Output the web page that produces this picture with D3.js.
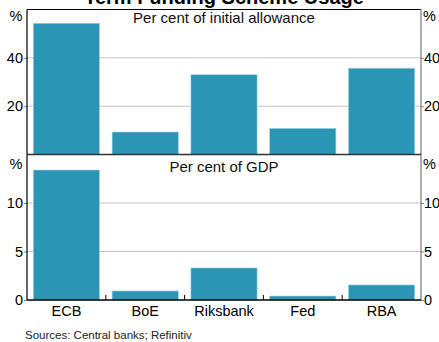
<!DOCTYPE html>
<html>
<head>
<meta charset="utf-8">
<script src="https://cdn.jsdelivr.net/npm/d3@7"></script>
<style>
  html, body { margin: 0; padding: 0; background: #fff; }
  svg { display: block; font-family: "Liberation Sans", Arial, sans-serif; }
</style>
</head>
<body>
<svg id="chart" width="439" height="342"></svg>
<script>
// Central bank term funding schemes
const categories = ["ECB", "BoE", "Riksbank", "Fed", "RBA"];
const allowanceShare = [54.3, 9.3, 33.0, 10.8, 35.7];   // per cent of initial allowance
const gdpShare = [13.4, 0.93, 3.3, 0.41, 1.55];          // per cent of GDP
const topTicks = [20, 40];
const bottomTicks = [0, 5, 10];

const svg = d3.select("#chart");
const left = 27, right = 421;
const topY0 = 9.5, topY1 = 154.5, botY1 = 300;
const barColor = "#2a95b4";
const fs = 14.5;

const x = d3.scaleBand().domain(categories).range([left, right]).paddingInner(0.16).paddingOuter(0.08);

function panel(values, domainMax, ticks, y0, y1, subtitle, subBaseline, unitBaseline) {
  const y = d3.scaleLinear().domain([0, domainMax]).range([y1, y0]);
  const g = svg.append("g");

  // gridlines
  g.selectAll("line.grid").data(ticks.filter(t => t > 0)).join("line")
    .attr("x1", left).attr("x2", right)
    .attr("y1", d => y(d)).attr("y2", d => y(d))
    .attr("stroke", "#c4c4c4").attr("stroke-width", 1);

  // bars
  g.selectAll("rect").data(values).join("rect")
    .attr("x", (d, i) => x(categories[i]))
    .attr("width", x.bandwidth())
    .attr("y", d => y(d))
    .attr("height", d => y(0) - y(d))
    .attr("fill", barColor)
    .attr("stroke", "#9ed4e4").attr("stroke-width", 0.6);

  // left axis
  const la = d3.axisLeft(y).tickValues(ticks).tickSize(3).tickFormat(d3.format("d"));
  const lg = g.append("g").attr("transform", `translate(${left},0)`).call(la);
  lg.select(".domain").remove();
  lg.selectAll(".tick line").attr("stroke", "#888");
  lg.selectAll(".tick text").attr("font-size", fs).attr("fill", "#000").attr("x", -4)
    .attr("font-family", "Liberation Sans, Arial, sans-serif");

  // right axis
  const ra = d3.axisRight(y).tickValues(ticks).tickSize(3).tickFormat(d3.format("d"));
  const rg = g.append("g").attr("transform", `translate(${right},0)`).call(ra);
  rg.select(".domain").remove();
  rg.selectAll(".tick line").attr("stroke", "#888");
  rg.selectAll(".tick text").attr("font-size", fs).attr("fill", "#000").attr("x", 3)
    .attr("font-family", "Liberation Sans, Arial, sans-serif");

  // unit labels
  g.append("text").attr("x", 16).attr("y", unitBaseline).attr("text-anchor", "middle")
    .attr("font-size", fs).text("%");
  g.append("text").attr("x", 423).attr("y", unitBaseline).attr("text-anchor", "start")
    .attr("font-size", fs).text("%");

  // subtitle
  g.append("text").attr("x", (left + right) / 2).attr("y", subBaseline)
    .attr("text-anchor", "middle").attr("font-size", 15).attr("fill", "#111").text(subtitle);

  return y;
}

panel(allowanceShare, 60, topTicks, topY0, topY1, "Per cent of initial allowance", 23, 20.5);
panel(gdpShare, 15, bottomTicks, topY1, botY1, "Per cent of GDP", 171.5, 168.5);

// frame lines
svg.append("line").attr("x1", left).attr("x2", right).attr("y1", topY0).attr("y2", topY0)
  .attr("stroke", "#000").attr("stroke-width", 1.2);
svg.append("line").attr("x1", left).attr("x2", left).attr("y1", topY0).attr("y2", botY1)
  .attr("stroke", "#000").attr("stroke-width", 1.2);
svg.append("line").attr("x1", right).attr("x2", right).attr("y1", topY0).attr("y2", botY1)
  .attr("stroke", "#777").attr("stroke-width", 1.2);
svg.append("line").attr("x1", left).attr("x2", right).attr("y1", topY1).attr("y2", topY1)
  .attr("stroke", "#333").attr("stroke-width", 1.4);

// category axis
const xa = d3.axisBottom(x).tickSize(0).tickPadding(0);
const xg = svg.append("g").attr("transform", `translate(0,${botY1})`).call(xa);
xg.select(".domain").remove();
xg.selectAll(".tick text").attr("font-size", fs).attr("fill", "#000")
  .attr("dy", null).attr("y", 16)
  .attr("font-family", "Liberation Sans, Arial, sans-serif");

// separators between categories
const step = x.step();
svg.selectAll("line.sep").data(categories.slice(1)).join("line")
  .attr("x1", d => x(d) - step * x.paddingInner() / 2)
  .attr("x2", d => x(d) - step * x.paddingInner() / 2)
  .attr("y1", botY1).attr("y2", botY1 - 5)
  .attr("stroke", "#000").attr("stroke-width", 1);

svg.append("line").attr("x1", left).attr("x2", right).attr("y1", botY1).attr("y2", botY1)
  .attr("stroke", "#000").attr("stroke-width", 1.4);

// title
svg.append("text").attr("x", 224).attr("y", 4).attr("text-anchor", "middle")
  .attr("font-size", 20).attr("font-weight", "bold").text("Term Funding Scheme Usage");

// source
svg.append("text").attr("x", 25).attr("y", 339).attr("font-size", 11.5).attr("fill", "#222")
  .text("Sources: Central banks; Refinitiv");
</script>
</body>
</html>
